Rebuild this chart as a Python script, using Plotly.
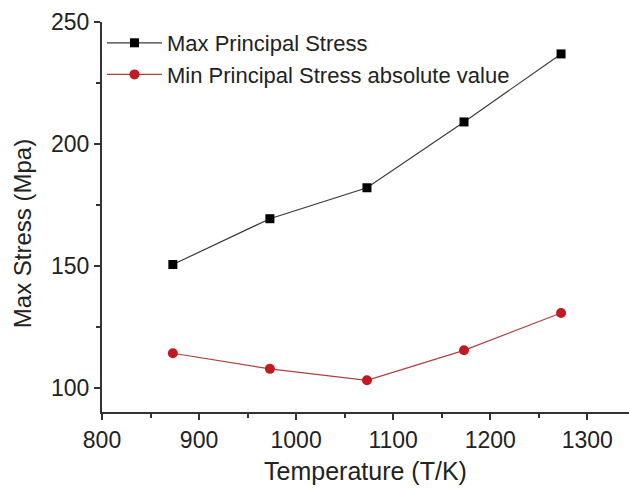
import plotly.graph_objects as go

# Temperature (K) and principal stress values (MPa)
temperature = [873, 973, 1073, 1173, 1273]
max_principal = [150.5, 169.3, 182.0, 209.0, 236.9]
min_principal_abs = [114.1, 107.7, 103.0, 115.3, 130.6]

x_ticks = [800, 900, 1000, 1100, 1200, 1300]
y_ticks = [100, 150, 200, 250]

font_family = "Liberation Sans, Arial, sans-serif"
text_color = "#222222"

fig = go.Figure()

fig.add_trace(go.Scatter(
    x=temperature, y=max_principal,
    mode="lines+markers",
    name="Max Principal Stress",
    line=dict(color="#3a3a3a", width=1.2),
    marker=dict(symbol="square", size=9, color="#000000"),
))

fig.add_trace(go.Scatter(
    x=temperature, y=min_principal_abs,
    mode="lines+markers",
    name="Min Principal Stress absolute value",
    line=dict(color="#b04040", width=1.2),
    marker=dict(symbol="circle", size=10, color="#c01a22"),
))

axis_common = dict(
    showline=True, linecolor="#333333", linewidth=2,
    ticks="outside", ticklen=6, tickwidth=1.5, tickcolor="#333333",
    showgrid=False, zeroline=False, mirror=False,
    tickfont=dict(size=23, color=text_color, family=font_family),
)

fig.update_xaxes(
    range=[800, 1343],
    tickvals=x_ticks,
    title=dict(text="Temperature (T/K)", font=dict(size=25, color=text_color, family=font_family), standoff=11),
    minor=dict(ticks="outside", ticklen=4, tickwidth=1.5, tickcolor="#333333", dtick=50, showgrid=False),
    **axis_common,
)

fig.update_yaxes(
    range=[90, 250],
    tickvals=y_ticks,
    minor=dict(ticks="outside", ticklen=4, tickwidth=1.5, tickcolor="#333333", dtick=25, showgrid=False),
    **axis_common,
)

# Vertical axis title, placed slightly below the plot-area centre
fig.add_annotation(
    text="Max Stress (Mpa)",
    textangle=-90,
    xref="paper", yref="paper",
    x=0, y=0.456,
    xanchor="center", yanchor="middle",
    xshift=-80,
    showarrow=False,
    font=dict(size=24, color=text_color, family=font_family),
)

fig.update_layout(
    width=629, height=491,
    margin=dict(l=102, r=0, t=22, b=79),
    paper_bgcolor="white", plot_bgcolor="white",
    font=dict(family=font_family, color=text_color),
    showlegend=True,
    legend=dict(
        x=0.0, y=1.0, xanchor="left", yanchor="top",
        bgcolor="rgba(0,0,0,0)",
        font=dict(size=22, color=text_color, family=font_family),
        itemwidth=55,
        tracegroupgap=0,
    ),
)

fig.write_html("out.html")
